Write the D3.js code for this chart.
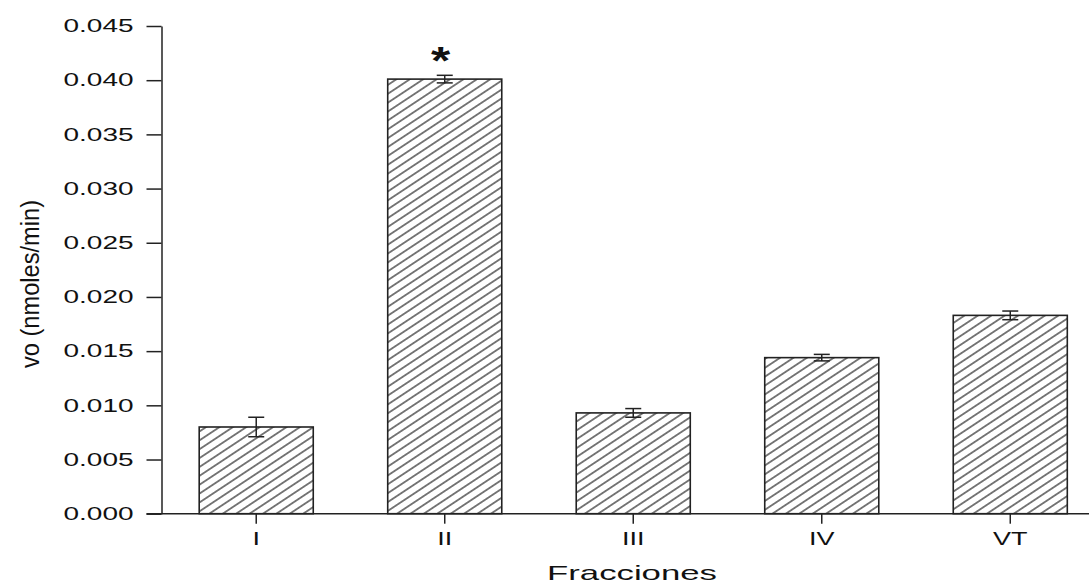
<!DOCTYPE html>
<html>
<head>
<meta charset="utf-8">
<script src="https://cdn.jsdelivr.net/npm/d3@7"></script>
<style>
  body { margin: 0; background: #fff; }
  text { font-family: "Liberation Sans", Arial, sans-serif; fill: #111; }
</style>
</head>
<body>
<script>
'use strict';

// data
const categories = ["I", "II", "III", "IV", "VT"];
const means = [0.0080, 0.0401, 0.0093, 0.0144, 0.0183];
const errors = [0.0009, 0.00035, 0.0004, 0.0003, 0.0004];
const yTicks = [0, 0.005, 0.010, 0.015, 0.020, 0.025, 0.030, 0.035, 0.040, 0.045];
const marked = ["II"]; // significant, gets an asterisk

const width = 1089, height = 584;
const axisX = 161.5, axisY = 513.7;

const svg = d3.select("body").append("svg")
  .attr("width", width)
  .attr("height", height);

// hatch pattern
const defs = svg.append("defs");
defs.append("pattern")
  .attr("id", "hatch")
  .attr("patternUnits", "userSpaceOnUse")
  .attr("width", 10)
  .attr("height", 7.4)
  .attr("patternTransform", "rotate(-33.5)")
  .append("line")
    .attr("x1", 0).attr("x2", 10)
    .attr("y1", 3.7).attr("y2", 3.7)
    .attr("stroke", "#111")
    .attr("stroke-width", 1.1);

// scales
const x = d3.scaleBand()
  .domain(categories)
  .range([axisX, 1105])
  .paddingInner(0.395)
  .paddingOuter(0.2);

const y = d3.scaleLinear()
  .domain([0, 0.045])
  .range([axisY, 26]);

const rows = categories.map((c, i) => ({ cat: c, mean: means[i], err: errors[i] }));

// bars
svg.selectAll(".bar")
  .data(rows)
  .enter()
  .append("rect")
    .attr("class", "bar")
    .attr("x", d => x(d.cat))
    .attr("y", d => y(d.mean))
    .attr("width", x.bandwidth())
    .attr("height", d => y(0) - y(d.mean))
    .attr("fill", "url(#hatch)")
    .attr("stroke", "#222")
    .attr("stroke-width", 1.6);

// error bars
const eb = svg.selectAll(".err")
  .data(rows)
  .enter()
  .append("g")
    .attr("class", "err")
    .attr("stroke", "#222")
    .attr("stroke-width", 1.5);
eb.append("line")
  .attr("x1", d => x(d.cat) + x.bandwidth() / 2)
  .attr("x2", d => x(d.cat) + x.bandwidth() / 2)
  .attr("y1", d => y(d.mean + d.err))
  .attr("y2", d => y(d.mean - d.err));
eb.append("line")
  .attr("x1", d => x(d.cat) + x.bandwidth() / 2 - 8)
  .attr("x2", d => x(d.cat) + x.bandwidth() / 2 + 8)
  .attr("y1", d => y(d.mean + d.err))
  .attr("y2", d => y(d.mean + d.err));
eb.append("line")
  .attr("x1", d => x(d.cat) + x.bandwidth() / 2 - 8)
  .attr("x2", d => x(d.cat) + x.bandwidth() / 2 + 8)
  .attr("y1", d => y(d.mean - d.err))
  .attr("y2", d => y(d.mean - d.err));

// asterisk
svg.selectAll(".star")
  .data(rows.filter(d => marked.includes(d.cat)))
  .enter()
  .append("text")
    .attr("class", "star")
    .attr("transform", d => "translate(" + (x(d.cat) + x.bandwidth() / 2 - 4) + "," + (y(d.mean) - 5) + ") scale(1.3,1)")
    .attr("text-anchor", "middle")
    .style("font-size", "38px")
    .style("font-weight", "bold")
    .text("*");

// y axis
const yAxis = d3.axisLeft(y)
  .tickValues(yTicks)
  .tickSize(15)
  .tickSizeOuter(0)
  .tickFormat(d3.format(".3f"));
const gy = svg.append("g")
  .attr("transform", "translate(" + axisX + ",0)")
  .call(yAxis);
gy.select(".domain").attr("stroke", "#222").attr("stroke-width", 1.5);
gy.selectAll(".tick line").attr("stroke", "#222").attr("stroke-width", 1.5);
gy.selectAll(".tick text")
  .attr("x", -28)
  .attr("textLength", 70)
  .attr("lengthAdjust", "spacingAndGlyphs")
  .style("font-size", "18px")
  .attr("fill", "#111");

// x axis
const xAxis = d3.axisBottom(x)
  .tickSize(10)
  .tickSizeOuter(0);
const gx = svg.append("g")
  .attr("transform", "translate(0," + axisY + ")")
  .call(xAxis);
gx.select(".domain").remove();
gx.selectAll(".tick line").attr("stroke", "#222").attr("stroke-width", 1.5);
gx.selectAll(".tick text")
  .attr("y", null)
  .attr("dy", null)
  .attr("transform", "translate(0,31) scale(1.5,1)")
  .style("font-size", "18px")
  .attr("fill", "#111");
gx.append("line")
  .attr("x1", axisX - 15)
  .attr("x2", width)
  .attr("y1", 0)
  .attr("y2", 0)
  .attr("stroke", "#222")
  .attr("stroke-width", 1.5);

// axis titles
svg.append("text")
  .attr("transform", "translate(39,284) rotate(-90)")
  .attr("text-anchor", "middle")
  .attr("textLength", 168)
  .attr("lengthAdjust", "spacingAndGlyphs")
  .style("font-size", "26px")
  .text("vo (nmoles/min)");

svg.append("text")
  .attr("x", 632)
  .attr("y", 580)
  .attr("text-anchor", "middle")
  .attr("textLength", 170)
  .attr("lengthAdjust", "spacingAndGlyphs")
  .style("font-size", "21px")
  .text("Fracciones");
</script>
</body>
</html>
